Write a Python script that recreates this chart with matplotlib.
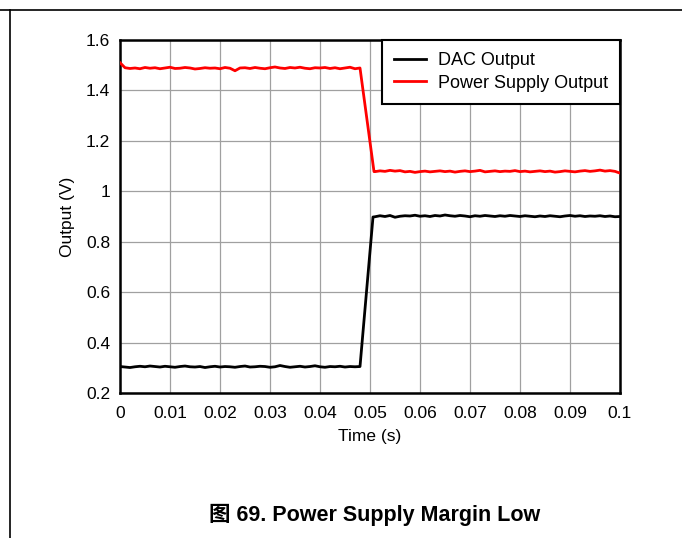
import matplotlib
matplotlib.use("Agg")
import matplotlib.pyplot as plt
from matplotlib.lines import Line2D

plt.rcParams['font.family'] = ['Liberation Sans', 'Noto Sans CJK SC', 'DejaVu Sans']

# ---- data ----
t_pre = [i / 1000 for i in range(49)]          # 0 .. 0.048 s
t_post = [i / 1000 for i in range(51, 101)]    # 0.051 .. 0.100 s

red_pre = [1.510, 1.490, 1.487, 1.489, 1.486, 1.491, 1.488, 1.490, 1.486, 1.489,
           1.492, 1.487, 1.488, 1.491, 1.489, 1.485, 1.487, 1.490, 1.488, 1.489,
           1.486, 1.491, 1.488, 1.478, 1.489, 1.490, 1.487, 1.491, 1.488, 1.486,
           1.490, 1.493, 1.489, 1.487, 1.491, 1.489, 1.492, 1.488, 1.486, 1.490,
           1.489, 1.491, 1.487, 1.490, 1.486, 1.489, 1.492, 1.486, 1.489]
red_step_t, red_step_v = 0.0508, 1.078
red_post = [1.078, 1.081, 1.079, 1.083, 1.080, 1.082, 1.077, 1.079, 1.075, 1.078,
            1.080, 1.077, 1.079, 1.081, 1.078, 1.080, 1.076, 1.079, 1.081, 1.078,
            1.080, 1.083, 1.077, 1.079, 1.081, 1.078, 1.080, 1.079, 1.082, 1.078,
            1.080, 1.077, 1.079, 1.081, 1.078, 1.080, 1.076, 1.078, 1.081, 1.079,
            1.077, 1.080, 1.082, 1.079, 1.081, 1.084, 1.080, 1.082, 1.079, 1.072]

dac_pre = [0.305, 0.303, 0.301, 0.304, 0.306, 0.304, 0.307, 0.305, 0.303, 0.306,
           0.304, 0.302, 0.305, 0.307, 0.304, 0.303, 0.305, 0.301, 0.304, 0.306,
           0.303, 0.305, 0.304, 0.302, 0.305, 0.307, 0.303, 0.304, 0.306, 0.305,
           0.302, 0.304, 0.309, 0.305, 0.302, 0.304, 0.306, 0.303, 0.305, 0.308,
           0.304, 0.302, 0.305, 0.304, 0.306, 0.303, 0.305, 0.304, 0.305]
dac_step_t, dac_step_v = 0.0506, 0.898
dac_post = [0.899, 0.903, 0.900, 0.904, 0.897, 0.901, 0.903, 0.902, 0.905, 0.901,
            0.903, 0.900, 0.904, 0.902, 0.906, 0.903, 0.901, 0.904, 0.902, 0.899,
            0.903, 0.901, 0.904, 0.902, 0.900, 0.903, 0.901, 0.904, 0.902, 0.900,
            0.903, 0.901, 0.899, 0.902, 0.900, 0.903, 0.901, 0.899, 0.902, 0.904,
            0.901, 0.903, 0.900, 0.902, 0.901, 0.903, 0.900, 0.902, 0.899, 0.900]

x_ticks = [0, 0.01, 0.02, 0.03, 0.04, 0.05, 0.06, 0.07, 0.08, 0.09, 0.1]
x_labels = ['0', '0.01', '0.02', '0.03', '0.04', '0.05', '0.06', '0.07', '0.08', '0.09', '0.1']
y_ticks = [0.2, 0.4, 0.6, 0.8, 1.0, 1.2, 1.4, 1.6]
y_labels = ['0.2', '0.4', '0.6', '0.8', '1', '1.2', '1.4', '1.6']

# ---- figure ----
fig = plt.figure(figsize=(6.82, 5.38), dpi=100)
ax = fig.add_axes([120 / 682, 1 - 393 / 538, 500 / 682, 353 / 538])

t_red = t_pre + [red_step_t] + t_post
v_red = red_pre + [red_step_v] + red_post
t_dac = t_pre + [dac_step_t] + t_post
v_dac = dac_pre + [dac_step_v] + dac_post

ax.plot(t_dac, v_dac, color='black', lw=2.0, label='DAC Output', zorder=3)
ax.plot(t_red, v_red, color='#ff0000', lw=2.0, label='Power Supply Output', zorder=3)

ax.set_xlim(0, 0.1)
ax.set_ylim(0.2, 1.6)
ax.set_xticks(x_ticks)
ax.set_xticklabels(x_labels)
ax.set_yticks(y_ticks)
ax.set_yticklabels(y_labels)
ax.tick_params(axis='x', length=0, labelsize=12.5, pad=9)
ax.tick_params(axis='y', length=0, labelsize=12.5, pad=7)
ax.grid(True, color='#a0a0a0', lw=0.9)
ax.set_axisbelow(True)
for s in ax.spines.values():
    s.set_linewidth(1.8)
    s.set_color('black')

ax.set_xlabel('Time (s)', fontsize=12.5, labelpad=6)
ax.set_ylabel('Output (V)', fontsize=12.5, labelpad=8)

leg = ax.legend(loc='upper right', borderaxespad=0, fontsize=13, fancybox=False,
                framealpha=1, edgecolor='black', handlelength=1.75, handletextpad=0.65,
                borderpad=0.68, labelspacing=0.3)
leg.get_frame().set_linewidth(1.5)

# page border lines
fig.add_artist(Line2D([0, 1], [1 - 9.5 / 538, 1 - 9.5 / 538], color='black', lw=1.2,
                      transform=fig.transFigure))
fig.add_artist(Line2D([9.5 / 682, 9.5 / 682], [0, 1 - 9.5 / 538], color='black', lw=1.2,
                      transform=fig.transFigure))

fig.text(375 / 682, 1 - 515 / 538, '图 69. Power Supply Margin Low', ha='center', va='center',
         fontsize=15.5, fontweight='bold')

fig.savefig('out.png', dpi=100)
